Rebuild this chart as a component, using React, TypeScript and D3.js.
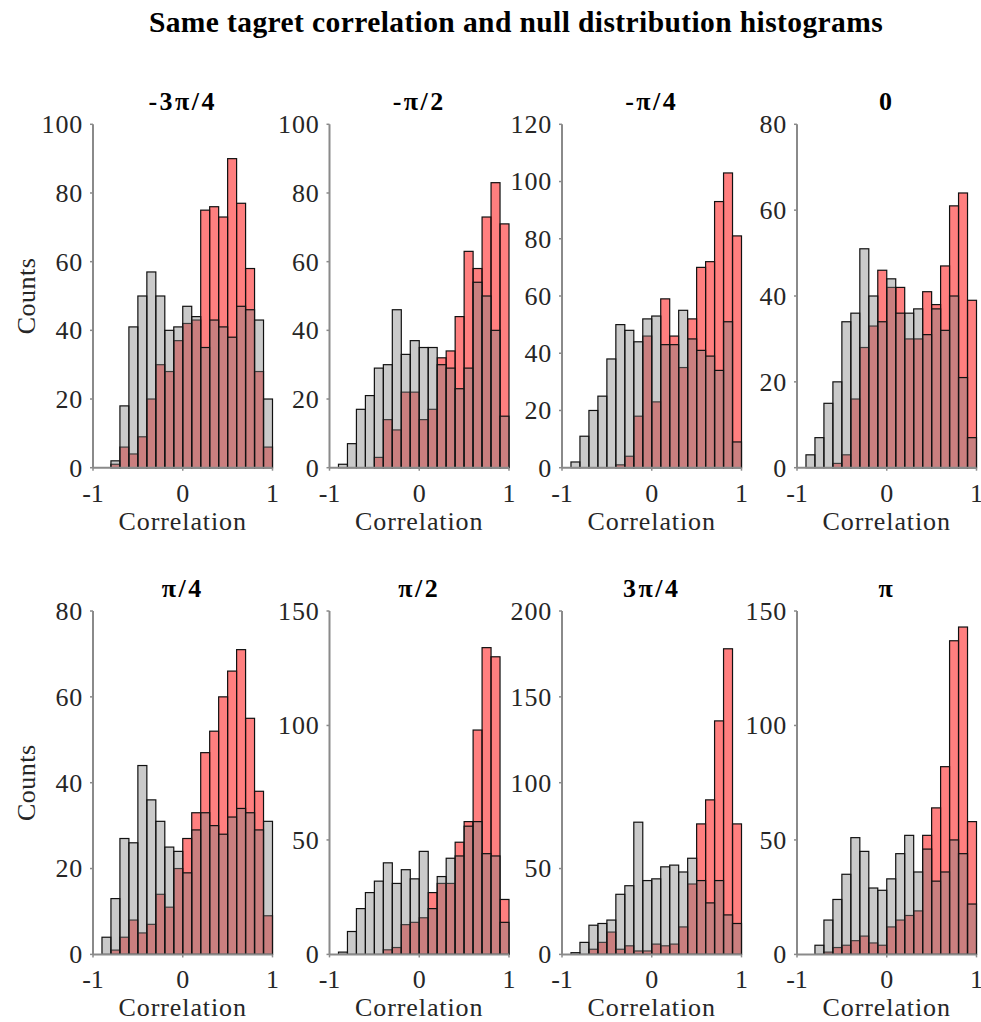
import React from "react";
import * as d3 from "d3";

// Panel titles (phase offset of the target)
const panelTitles = ["-3π/4", "-π/2", "-π/4", "0", "π/4", "π/2", "3π/4", "π"];

// Upper limit and tick values of each panel's count axis
const yMax = [100, 100, 120, 80, 80, 150, 200, 150];
const yTicks = [
  [0, 20, 40, 60, 80, 100],
  [0, 20, 40, 60, 80, 100],
  [0, 20, 40, 60, 80, 100, 120],
  [0, 20, 40, 60, 80],
  [0, 20, 40, 60, 80],
  [0, 50, 100, 150],
  [0, 50, 100, 150, 200],
  [0, 50, 100, 150],
];
const xTicks = [-1, 0, 1];

// Counts per bin (20 bins of width 0.1 from -1 to 1)
// Null distribution (grey)
const nullCounts = [
  [0, 0, 2, 18, 41, 50, 57, 50, 40, 41, 47, 44, 35, 43, 41, 38, 47, 46, 43, 20],
  [0, 1, 7, 17, 21, 29, 30, 46, 33, 37, 35, 35, 30, 29, 23, 29, 54, 50, 40, 15],
  [0, 2, 11, 20, 25, 38, 50, 48, 44, 52, 53, 43, 43, 55, 45, 41, 39, 34, 51, 9],
  [0, 3, 7, 15, 20, 34, 36, 51, 40, 34, 44, 36, 36, 37, 31, 37, 32, 40, 21, 7],
  [0, 4, 13, 27, 26, 44, 36, 31, 25, 24, 19, 29, 33, 30, 28, 32, 34, 33, 29, 31],
  [0, 1, 10, 20, 27, 32, 40, 31, 37, 33, 45, 20, 34, 42, 43, 56, 58, 44, 43, 14],
  [0, 1, 7, 17, 18, 20, 35, 40, 77, 43, 44, 51, 52, 48, 56, 43, 30, 43, 23, 18],
  [0, 0, 4, 15, 24, 35, 51, 45, 29, 28, 33, 44, 52, 36, 46, 32, 36, 50, 44, 22],
];
// Same-target correlations (red)
const targetCounts = [
  [0, 0, 1, 6, 4, 9, 20, 30, 28, 37, 42, 43, 75, 76, 73, 90, 77, 58, 28, 6],
  [0, 0, 0, 0, 0, 3, 14, 11, 22, 22, 14, 17, 32, 34, 44, 63, 58, 73, 83, 71],
  [0, 0, 0, 0, 0, 0, 1, 4, 18, 46, 23, 59, 46, 35, 52, 70, 72, 93, 103, 81],
  [0, 0, 0, 0, 1, 3, 16, 28, 33, 46, 42, 42, 30, 30, 41, 38, 47, 61, 64, 39],
  [0, 0, 1, 4, 8, 5, 7, 14, 11, 20, 27, 33, 47, 52, 60, 66, 71, 55, 38, 9],
  [0, 0, 0, 0, 0, 0, 2, 3, 13, 14, 16, 27, 31, 31, 49, 58, 98, 134, 130, 24],
  [0, 0, 0, 3, 7, 13, 3, 5, 2, 2, 6, 5, 6, 16, 41, 76, 90, 136, 178, 76],
  [0, 0, 0, 1, 3, 4, 6, 8, 5, 4, 12, 15, 17, 19, 52, 64, 82, 137, 143, 58],
];

const binStart = -1;
const binWidth = 0.1;

const W = 981;
const H = 1022;
const colLeft = [93, 329.5, 562, 797];
const plotW = 179.5;
const rowTop = [124.3, 611];
const plotH = 343.4;

const SERIF = "'Liberation Serif', 'Times New Roman', serif";
const TEXT = "#262626";
const AXIS = "#8a8a8a";

function Panel({ idx }: { idx: number }) {
  const col = idx % 4;
  const row = Math.floor(idx / 4);
  const left = colLeft[col];
  const top = rowTop[row];
  const x = d3.scaleLinear().domain([-1, 1]).range([left, left + plotW]);
  const y = d3.scaleLinear().domain([0, yMax[idx]]).range([top + plotH, top]);
  const bottom = top + plotH;

  const bars = (vals: number[], fill: string) =>
    vals.map((v, i) => {
      const x0 = x(binStart + i * binWidth);
      const x1 = x(binStart + (i + 1) * binWidth);
      return (
        <rect
          key={i}
          x={x0}
          y={y(v)}
          width={x1 - x0}
          height={y(0) - y(v)}
          fill={fill}
          stroke="#111"
          strokeWidth={1.2}
        />
      );
    });

  return (
    <g>
      {bars(targetCounts[idx], "rgba(255,0,0,0.5)")}
      {bars(nullCounts[idx], "rgba(128,128,128,0.42)")}
      {/* axes */}
      <line x1={left} x2={left} y1={top} y2={bottom} stroke={AXIS} strokeWidth={2} />
      <line x1={left} x2={left + plotW} y1={bottom} y2={bottom} stroke={AXIS} strokeWidth={2} />
      {yTicks[idx].map((t) => (
        <g key={"y" + t}>
          <line x1={left - 3} x2={left} y1={y(t)} y2={y(t)} stroke={AXIS} strokeWidth={1.5} />
          <text
            x={left - 10}
            y={y(t)}
            dy="0.34em"
            textAnchor="end"
            fontFamily={SERIF}
            fontSize={26}
            fill={TEXT}
            letterSpacing={0.8}
          >
            {t}
          </text>
        </g>
      ))}
      {xTicks.map((t) => (
        <g key={"x" + t}>
          <line x1={x(t)} x2={x(t)} y1={bottom} y2={bottom + 3} stroke={AXIS} strokeWidth={1.5} />
          <text
            x={x(t)}
            y={bottom + 34}
            textAnchor="middle"
            fontFamily={SERIF}
            fontSize={26}
            fill={TEXT}
          >
            {t}
          </text>
        </g>
      ))}
      <text
        x={left + plotW / 2}
        y={bottom + 62}
        textAnchor="middle"
        fontFamily={SERIF}
        fontSize={26}
        letterSpacing={0.9}
        fill={TEXT}
      >
        Correlation
      </text>
      <text
        x={left + plotW / 2}
        y={top - 14}
        textAnchor="middle"
        fontFamily={SERIF}
        fontSize={26}
        fontWeight="bold"
        letterSpacing={2.5}
        fill="#000"
      >
        {panelTitles[idx]}
      </text>
      {col === 0 && (
        <text
          transform={`translate(${26},${top + plotH / 2}) rotate(-90)`}
          textAnchor="middle"
          dy="0.34em"
          fontFamily={SERIF}
          fontSize={26}
          letterSpacing={0.5}
          fill={TEXT}
        >
          Counts
        </text>
      )}
    </g>
  );
}

export default function App() {
  return (
    <svg
      width={W}
      height={H}
      style={{ display: "block", background: "#fff", position: "absolute", left: 0, top: 0 }}
    >
      <rect width={W} height={H} fill="#fff" />
      <text
        x={516}
        y={32}
        textAnchor="middle"
        fontFamily={SERIF}
        fontSize={29.5}
        fontWeight="bold"
        letterSpacing={0.4}
        fill="#000"
      >
        Same tagret correlation and null distribution histograms
      </text>
      {panelTitles.map((_, i) => (
        <Panel key={i} idx={i} />
      ))}
    </svg>
  );
}
